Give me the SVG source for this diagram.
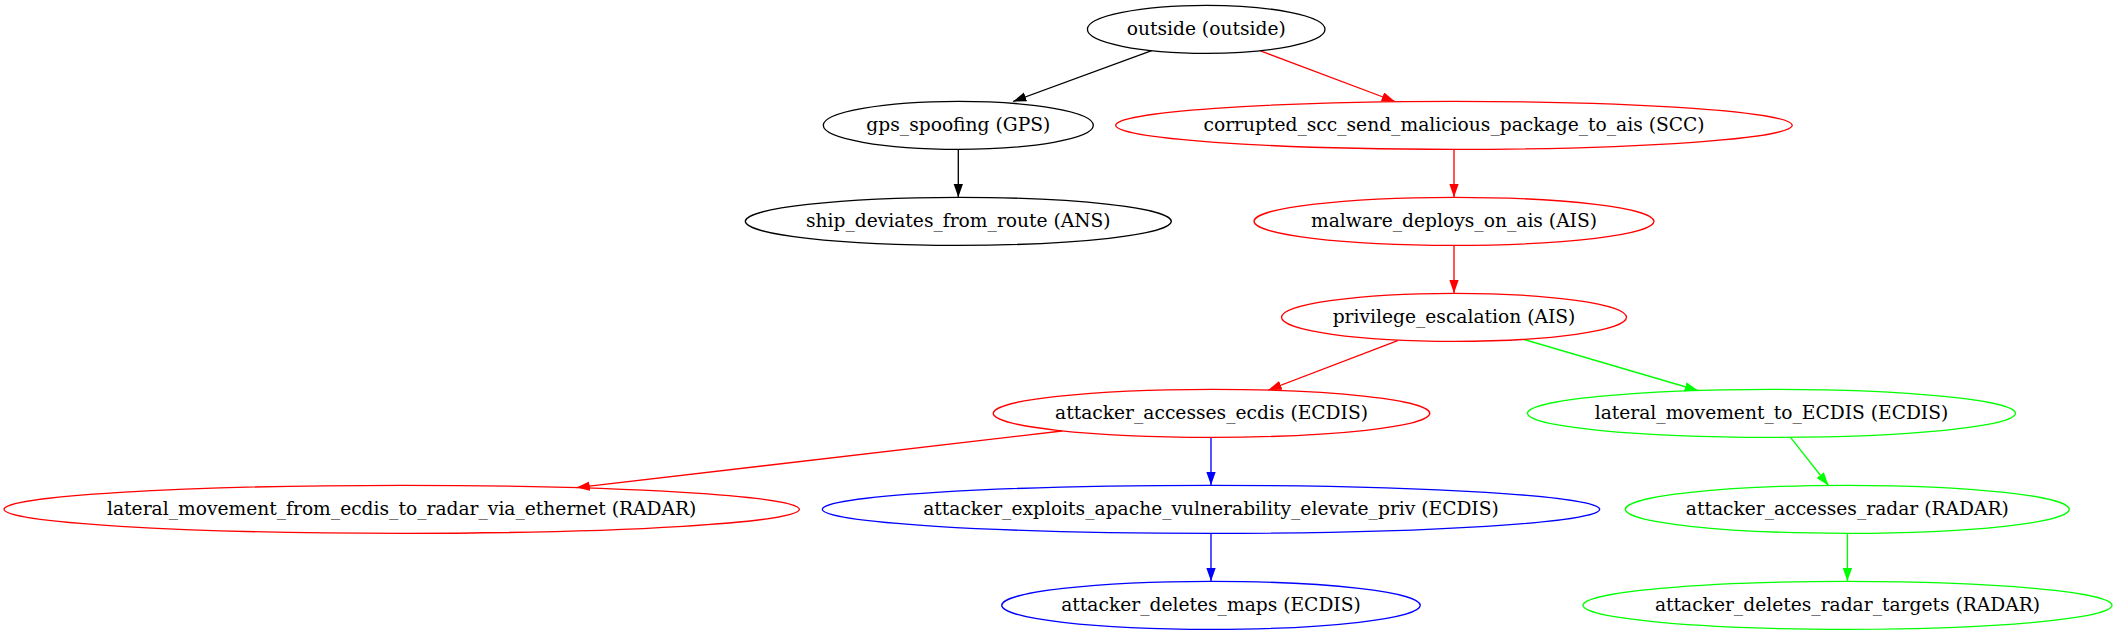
<svg xmlns="http://www.w3.org/2000/svg" width="2117" height="635" viewBox="0 0 2117 635">
<style>
.n ellipse{fill:none;stroke-width:1.33}
.n text{font-family:'DejaVu Serif','Liberation Serif',serif;font-size:18.67px;text-anchor:middle;fill:#000}
.k ellipse{stroke:#000}
.r ellipse{stroke:#ff0000}
.g ellipse{stroke:#00ff00}
.b ellipse{stroke:#0000ff}
#edges line{stroke-width:1.33;fill:none}
</style>
<defs>
<marker id="ak" markerUnits="userSpaceOnUse" markerWidth="15" markerHeight="11" refX="13.33" refY="4.67" orient="auto"><path d="M0,0 L13.33,4.67 L0,9.33 z" fill="#000"/></marker>
<marker id="ar" markerUnits="userSpaceOnUse" markerWidth="15" markerHeight="11" refX="13.33" refY="4.67" orient="auto"><path d="M0,0 L13.33,4.67 L0,9.33 z" fill="#ff0000"/></marker>
<marker id="ag" markerUnits="userSpaceOnUse" markerWidth="15" markerHeight="11" refX="13.33" refY="4.67" orient="auto"><path d="M0,0 L13.33,4.67 L0,9.33 z" fill="#00ff00"/></marker>
<marker id="ab" markerUnits="userSpaceOnUse" markerWidth="15" markerHeight="11" refX="13.33" refY="4.67" orient="auto"><path d="M0,0 L13.33,4.67 L0,9.33 z" fill="#0000ff"/></marker>
</defs>
<rect width="2117" height="635" fill="#fff"/>
<g id="edges">
<line x1="1151.7" y1="50.7" x2="1013" y2="101.5" stroke="#000" marker-end="url(#ak)"/>
<line x1="1260" y1="50.7" x2="1395" y2="101.5" stroke="#ff0000" marker-end="url(#ar)"/>
<line x1="958.3" y1="149.3" x2="958.3" y2="197.3" stroke="#000" marker-end="url(#ak)"/>
<line x1="1454" y1="149.3" x2="1454" y2="197.3" stroke="#ff0000" marker-end="url(#ar)"/>
<line x1="1454" y1="245.3" x2="1454" y2="293.3" stroke="#ff0000" marker-end="url(#ar)"/>
<line x1="1397.7" y1="340.7" x2="1268.3" y2="390" stroke="#ff0000" marker-end="url(#ar)"/>
<line x1="1524" y1="339.5" x2="1698" y2="390.5" stroke="#00ff00" marker-end="url(#ag)"/>
<line x1="1062" y1="431" x2="576.5" y2="487.6" stroke="#ff0000" marker-end="url(#ar)"/>
<line x1="1211" y1="437.3" x2="1211" y2="485.3" stroke="#0000ff" marker-end="url(#ab)"/>
<line x1="1211" y1="533.3" x2="1211" y2="581.3" stroke="#0000ff" marker-end="url(#ab)"/>
<line x1="1790.5" y1="437.3" x2="1828.5" y2="485.5" stroke="#00ff00" marker-end="url(#ag)"/>
<line x1="1847.4" y1="533.3" x2="1847.4" y2="581.3" stroke="#00ff00" marker-end="url(#ag)"/>
</g>
<g id="outside" class="n k"><ellipse cx="1206.2" cy="29.33" rx="118.8" ry="24"/><text x="1206.2" y="34.93">outside (outside)</text></g>
<g id="gps_spoofing" class="n k"><ellipse cx="958.3" cy="125.33" rx="135" ry="24"/><text x="958.3" y="130.93">gps_spoofing (GPS)</text></g>
<g id="corrupted_scc" class="n r"><ellipse cx="1454" cy="125.33" rx="338.3" ry="24"/><text x="1454" y="130.93">corrupted_scc_send_malicious_package_to_ais (SCC)</text></g>
<g id="ship_deviates" class="n k"><ellipse cx="958.3" cy="221.33" rx="213" ry="24"/><text x="958.3" y="226.93">ship_deviates_from_route (ANS)</text></g>
<g id="malware_deploys" class="n r"><ellipse cx="1454" cy="221.33" rx="200" ry="24"/><text x="1454" y="226.93">malware_deploys_on_ais (AIS)</text></g>
<g id="privilege_escalation" class="n r"><ellipse cx="1454" cy="317.33" rx="172.5" ry="24"/><text x="1454" y="322.93">privilege_escalation (AIS)</text></g>
<g id="attacker_accesses_ecdis" class="n r"><ellipse cx="1211.5" cy="413.33" rx="218.3" ry="24"/><text x="1211.5" y="418.93">attacker_accesses_ecdis (ECDIS)</text></g>
<g id="lateral_movement_to_ecdis" class="n g"><ellipse cx="1771.5" cy="413.33" rx="244" ry="24"/><text x="1771.5" y="418.93">lateral_movement_to_ECDIS (ECDIS)</text></g>
<g id="lateral_movement_from_ecdis" class="n r"><ellipse cx="401.7" cy="509.33" rx="397.7" ry="24"/><text x="401.7" y="514.93">lateral_movement_from_ecdis_to_radar_via_ethernet (RADAR)</text></g>
<g id="attacker_exploits_apache" class="n b"><ellipse cx="1211" cy="509.33" rx="388.7" ry="24"/><text x="1211" y="514.93">attacker_exploits_apache_vulnerability_elevate_priv (ECDIS)</text></g>
<g id="attacker_accesses_radar" class="n g"><ellipse cx="1847.3" cy="509.33" rx="222" ry="24"/><text x="1847.3" y="514.93">attacker_accesses_radar (RADAR)</text></g>
<g id="attacker_deletes_maps" class="n b"><ellipse cx="1211" cy="605.33" rx="209.3" ry="24"/><text x="1211" y="610.93">attacker_deletes_maps (ECDIS)</text></g>
<g id="attacker_deletes_radar_targets" class="n g"><ellipse cx="1847.5" cy="605.33" rx="264.5" ry="24"/><text x="1847.5" y="610.93">attacker_deletes_radar_targets (RADAR)</text></g>
</svg>
